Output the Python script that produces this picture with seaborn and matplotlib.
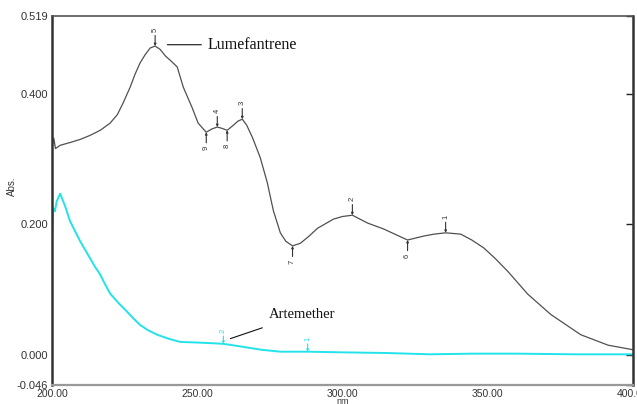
import matplotlib
matplotlib.use("Agg")
import matplotlib.pyplot as plt
import seaborn as sns
import pandas as pd

# ---- data ----
lum_nm = [200, 200.6, 201.2, 202.8, 206, 209.7, 213, 216.6, 220, 222.5, 224.5, 226.9,
          228.6, 230.3, 232.1, 233.8, 235.5, 237.2, 239, 241, 243.1, 245.2, 248.3,
          250.3, 253.1, 255, 256.9, 258.5, 260.3, 262.5, 264, 265.5, 267, 269, 271.7,
          274.1, 276.2, 278.6, 280.5, 282.8, 285.5, 288.5, 291.4, 296.9, 300, 303.4,
          308.6, 314.1, 318, 322.4, 327.9, 331.5, 335.5, 340.7, 344.5, 348.6, 352.5,
          356.9, 363.8, 371.7, 382, 391.4, 400]
lum_abs = [0.318, 0.332, 0.316, 0.321, 0.325, 0.330, 0.336, 0.344, 0.355, 0.368, 0.386, 0.410,
           0.430, 0.447, 0.460, 0.470, 0.473, 0.468, 0.458, 0.450, 0.441, 0.410, 0.378,
           0.355, 0.341, 0.346, 0.349, 0.347, 0.344, 0.352, 0.358, 0.361, 0.352, 0.333, 0.302,
           0.264, 0.221, 0.187, 0.174, 0.167, 0.171, 0.182, 0.194, 0.208, 0.212, 0.214,
           0.202, 0.193, 0.185, 0.176, 0.182, 0.185, 0.187, 0.185, 0.176, 0.164, 0.148,
           0.128, 0.093, 0.062, 0.031, 0.015, 0.008]

art_nm = [200, 200.4, 201, 201.6, 202.8, 204.5, 206.2, 208, 209.7, 211.4, 213.1, 214.8,
          216.6, 218.3, 220, 223, 225.9, 228, 230.3, 233, 236.2, 240, 244.1, 250, 255,
          259, 265, 272, 278.6, 288, 300, 315, 330, 345, 360, 380, 400]
art_abs = [0.177, 0.225, 0.220, 0.235, 0.247, 0.228, 0.205, 0.189, 0.174, 0.161, 0.148, 0.135,
           0.123, 0.108, 0.094, 0.079, 0.066, 0.056, 0.046, 0.038, 0.031, 0.025, 0.020, 0.019,
           0.018, 0.017, 0.013, 0.008, 0.005, 0.005, 0.004, 0.003, 0.001, 0.002, 0.002, 0.001,
           0.001]

lum_peak_nm = [335.5, 303.4, 265.5, 256.9, 235.5]
lum_peak_abs = [0.187, 0.214, 0.361, 0.349, 0.473]
lum_peak_lab = ["1", "2", "3", "4", "5"]
lum_val_nm = [322.4, 282.8, 260.3, 253.1]
lum_val_abs = [0.176, 0.167, 0.344, 0.341]
lum_val_lab = ["6", "7", "8", "9"]
art_peak_nm = [288, 259]
art_peak_abs = [0.005, 0.017]
art_peak_lab = ["1", "2"]

yticks = [-0.046, 0.0, 0.2, 0.4, 0.519]
ytick_labels = ["-0.046", "0.000", "0.200", "0.400", "0.519"]
xticks = [200, 250, 300, 350, 400]
xtick_labels = ["200.00", "250.00", "300.00", "350.00", "400.00"]

BLACK = "#505050"
CYAN = "#22e3ea"

sns.set_style("white")
plt.rcParams["font.family"] = ["Liberation Sans", "DejaVu Sans"]

fig = plt.figure(figsize=(6.37, 4.04), dpi=100)
ax = fig.add_axes([52 / 637, 1 - 385 / 404, (633 - 52) / 637, (385 - 16) / 404])

lum = pd.DataFrame({"nm": lum_nm, "abs": lum_abs})
art = pd.DataFrame({"nm": art_nm, "abs": art_abs})
sns.lineplot(data=lum, x="nm", y="abs", ax=ax, color=BLACK, lw=0.9, sort=False)
sns.lineplot(data=art, x="nm", y="abs", ax=ax, color=CYAN, lw=1.4, sort=False)

ax.set_xlim(200, 400)
ax.set_ylim(-0.046, 0.519)
ax.set_xticks(xticks)
ax.set_xticklabels(xtick_labels)
ax.set_yticks(yticks)
ax.set_yticklabels(ytick_labels)
ax.set_xlabel("")
ax.set_ylabel("")
ax.tick_params(axis="both", direction="in", labelcolor="#333333")
ax.tick_params(axis="y", length=5, width=1.0, color="#222222", pad=3, right=True,
               labelsize=8)
ax.tick_params(axis="x", length=4, width=1.6, color="#111111", pad=3, labelsize=7.5)

for side, c, w in [("left", "#333333", 1.8), ("right", "#333333", 1.8),
                   ("top", "#555555", 1.2), ("bottom", "#999999", 1.6)]:
    ax.spines[side].set_visible(True)
    ax.spines[side].set_color(c)
    ax.spines[side].set_linewidth(w)


def mark(xs, ys, labs, color, up=True, dist=10):
    for x, y, t in zip(xs, ys, labs):
        off = dist if up else -dist
        ax.annotate(t, xy=(x, y), xytext=(0, off), textcoords="offset points",
                    rotation=90, fontsize=5.5, color=color,
                    ha="center", va="bottom" if up else "top",
                    arrowprops=dict(arrowstyle="-|>", color=color, lw=0.8,
                                    mutation_scale=3, shrinkA=0, shrinkB=0))


mark(lum_peak_nm, lum_peak_abs, lum_peak_lab, "#333333", up=True)
mark(lum_val_nm, lum_val_abs, lum_val_lab, "#333333", up=False)
mark(art_peak_nm, art_peak_abs, art_peak_lab, CYAN, up=True, dist=8)

# series labels
ax.annotate("Lumefantrene", xy=(239.7, 0.475), xytext=(253.5, 0.475),
            fontsize=11.5, family=["Liberation Serif"], color="#111111",
            va="center", ha="left",
            arrowprops=dict(arrowstyle="-", color="#111111", lw=0.8, shrinkA=2, shrinkB=0))
ax.annotate("Artemether", xy=(261.4, 0.025), xytext=(274.5, 0.062),
            fontsize=10.5, family=["Liberation Serif"], color="#111111",
            va="center", ha="left",
            arrowprops=dict(arrowstyle="-", color="#111111", lw=0.8, shrinkA=8, shrinkB=0))

fig.text(12 / 637, 1 - 186 / 404, "Abs.", rotation=90, fontsize=7, color="#333333",
         ha="center", va="center")
fig.text(343 / 637, 1 - 401 / 404, "nm", fontsize=6.5, color="#333333",
         ha="center", va="center")

fig.savefig("out.png", dpi=100)
